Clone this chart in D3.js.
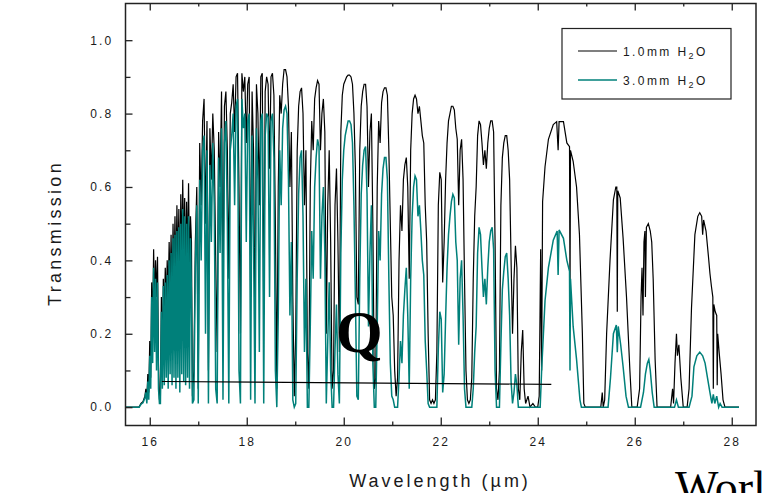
<!DOCTYPE html>
<html>
<head>
<meta charset="utf-8">
<script src="https://cdn.jsdelivr.net/npm/d3@7/dist/d3.min.js"></script>
<style>
  body { margin: 0; background: #fff; }
  text { fill: #1a1a1a; }
</style>
</head>
<body>
<div id="chart"></div>
<script>
// tick positions
const xMajor = [16, 18, 20, 22, 24, 26, 28];
const xMinor = [17, 19, 21, 23, 25, 27];
const yMajor = [0, 0.2, 0.4, 0.6, 0.8, 1.0];
const yMinor = [0.1, 0.3, 0.5, 0.7, 0.9];

// [wavelength (um), transmission]
const trans1mm = [
  [15.50,0],[15.78,0],[15.82,0.01],[15.86,0.015],[15.90,0.03],
  [15.92,0.05],[15.94,0.02],[15.96,0.09],[15.98,0.04],[16.00,0.18],[16.02,0.08],[16.04,0.34],[16.06,0.22],[16.08,0.43],[16.10,0.28],[16.12,0.40],[16.14,0.30],[16.16,0.41],[16.18,0.12],[16.20,0.02],[16.22,0.03],
  [16.24,0.30],[16.26,0.12],[16.28,0.35],[16.30,0.25],[16.32,0.38],[16.34,0.28],[16.36,0.40],[16.38,0.30],[16.40,0.45],[16.42,0.33],[16.44,0.47],[16.46,0.30],[16.48,0.50],[16.50,0.36],[16.52,0.52],[16.54,0.34],[16.56,0.55],[16.58,0.38],[16.60,0.54],[16.62,0.30],[16.64,0.58],[16.66,0.40],[16.68,0.62],[16.70,0.42],[16.72,0.57],[16.74,0.36],[16.76,0.56],[16.78,0.40],[16.80,0.61],[16.82,0.38],[16.84,0.52],[16.86,0.45],[16.88,0.03],
  [16.91,0.10],[16.94,0.45],[16.97,0.60],[17.00,0.05],[17.03,0.72],[17.06,0.55],[17.09,0.78],[17.12,0.84],[17.15,0.50],[17.18,0.78],[17.21,0.10],[17.24,0.76],[17.27,0.62],[17.30,0.80],[17.33,0.70],[17.36,0.40],[17.39,0.15],[17.42,0.75],[17.45,0.60],[17.48,0.86],[17.51,0.30],[17.54,0.82],[17.57,0.86],[17.60,0.70],[17.63,0.35],[17.66,0.80],[17.69,0.83],[17.72,0.88],[17.75,0.75],[17.78,0.90],[17.81,0.91],[17.84,0.60],[17.87,0.20],[17.90,0.91],[17.93,0.86],[17.96,0.90],[17.99,0.72],
  [18.02,0.88],[18.05,0.90],[18.08,0.30],[18.11,0.86],[18.14,0.70],[18.17,0.20],[18.20,0.88],[18.23,0.80],[18.26,0.55],[18.29,0.90],[18.32,0.91],[18.35,0.25],[18.38,0.86],[18.41,0.90],[18.44,0.88],[18.47,0.65],[18.50,0.90],[18.53,0.91],[18.56,0.85],[18.59,0.50],[18.62,0.05],[18.65,0.60],[18.68,0.85],[18.71,0.80],[18.74,0.88],[18.77,0.92],[18.80,0.92],[18.83,0.90],[18.86,0.82],[18.89,0.60],[18.92,0.75],[18.95,0.30],[18.98,0.03],
  [19.01,0.20],[19.04,0.70],[19.07,0.82],[19.10,0.86],[19.13,0.87],[19.16,0.80],[19.19,0.55],[19.22,0.70],[19.25,0.15],[19.28,0.05],[19.31,0.60],[19.34,0.78],[19.37,0.70],[19.40,0.84],[19.43,0.87],[19.46,0.89],[19.49,0.88],[19.52,0.70],[19.55,0.80],[19.58,0.84],[19.61,0.75],[19.64,0.20],[19.67,0.55],[19.70,0.70],[19.73,0.45],[19.76,0.05],[19.79,0.10],[19.82,0.55],[19.85,0.65],[19.88,0.45],[19.91,0.15],[19.94,0.75],[19.97,0.85],[20.00,0.88],
  [20.03,0.89],[20.06,0.90],[20.09,0.905],[20.12,0.905],[20.15,0.90],[20.18,0.88],[20.21,0.80],[20.24,0.65],[20.27,0.30],[20.30,0.28],[20.33,0.70],[20.36,0.82],[20.39,0.86],[20.42,0.88],[20.45,0.88],[20.48,0.82],[20.51,0.60],[20.54,0.75],[20.57,0.80],[20.60,0.50],[20.63,0.05],[20.66,0.08],[20.69,0.60],[20.72,0.78],[20.75,0.72],[20.78,0.83],[20.81,0.86],[20.84,0.87],[20.87,0.87],[20.90,0.85],[20.93,0.70],[20.96,0.50],[20.99,0.30],
  [21.02,0.25],[21.05,0.10],[21.08,0.03],[21.11,0.08],[21.14,0.40],[21.17,0.55],[21.20,0.48],[21.23,0.62],[21.26,0.66],[21.29,0.68],[21.32,0.60],[21.35,0.35],[21.38,0.70],[21.41,0.80],[21.44,0.84],[21.47,0.85],[21.50,0.84],[21.53,0.80],[21.56,0.82],[21.59,0.78],[21.62,0.74],[21.65,0.72],[21.68,0.55],[21.71,0.45],[21.74,0.20],[21.77,0.02],[21.80,0.01],[21.83,0.02],[21.86,0.01],[21.89,0.02],[21.92,0.15],[21.95,0.55],[21.98,0.64],[22.01,0.62],[22.04,0.34],[22.07,0.45],
  [22.10,0.62],[22.13,0.72],[22.16,0.78],[22.19,0.80],[22.22,0.82],[22.25,0.82],[22.28,0.81],[22.31,0.76],[22.34,0.73],[22.37,0.55],[22.40,0.70],[22.43,0.73],[22.46,0.62],[22.49,0.35],[22.52,0.10],[22.55,0.02],[22.58,0.01],[22.61,0.02],[22.64,0.08],[22.67,0.35],[22.70,0.52],[22.73,0.60],[22.76,0.74],[22.79,0.78],[22.82,0.77],[22.85,0.72],[22.88,0.66],[22.91,0.70],[22.94,0.65],[22.97,0.72],[23.00,0.76],
  [23.03,0.78],[23.06,0.78],[23.09,0.75],[23.12,0.45],[23.15,0.05],[23.18,0.02],[23.21,0.10],[23.24,0.55],[23.27,0.68],[23.30,0.72],[23.33,0.74],[23.36,0.74],[23.39,0.70],[23.42,0.62],[23.45,0.40],[23.48,0.20],[23.51,0.35],[23.54,0.44],[23.57,0.38],[23.60,0.05],[23.63,0.02],[23.66,0.15],[23.69,0.21],[23.72,0.05],[23.75,0.01],[23.80,0.03],[23.84,0],[23.90,0.01],[23.95,0],[24.00,0],
  [24.03,0.03],[24.06,0.43],[24.08,0.10],[24.10,0.56],[24.15,0.655],[24.22,0.73],[24.32,0.77],[24.39,0.778],[24.42,0.70],[24.44,0.778],[24.53,0.778],[24.60,0.72],[24.655,0.71],[24.665,0.30],[24.675,0.70],[24.73,0.67],[24.80,0.60],[24.86,0.47],[24.92,0.20],[24.95,0.01],[24.98,0],
  [25.30,0],[25.33,0.04],[25.35,0],[25.38,0.02],[25.42,0.20],[25.49,0.40],[25.56,0.565],[25.61,0.60],[25.63,0.60],[25.64,0.26],[25.65,0.59],[25.70,0.57],[25.76,0.46],[25.83,0.30],[25.90,0.10],[25.94,0],
  [26.05,0],[26.10,0.05],[26.13,0.30],[26.15,0.38],[26.17,0.25],[26.19,0.45],[26.21,0.48],[26.22,0.30],[26.24,0.49],[26.28,0.50],[26.32,0.48],[26.35,0.45],[26.38,0.35],[26.42,0.13],[26.46,0],
  [26.74,0],[26.78,0.05],[26.80,0.01],[26.83,0.12],[26.86,0.20],[26.88,0.14],[26.91,0.17],[26.95,0.08],[27.00,0],
  [27.08,0],[27.12,0.05],[27.17,0.27],[27.24,0.47],[27.30,0.52],[27.34,0.53],[27.38,0.52],[27.40,0.47],[27.42,0.51],[27.47,0.48],[27.52,0.41],[27.55,0.365],[27.58,0.33],[27.61,0.30],[27.62,0.05],[27.63,0.28],[27.66,0.26],[27.69,0.25],[27.70,0.06],[27.71,0.20],[27.74,0.15],[27.78,0.09],[27.82,0.02],[27.86,0],[28.15,0]
];

const trans3mm = [
  [15.50,0],[15.78,0],[15.82,0.008],[15.86,0.012],[15.90,0.025],
  [15.92,0.04],[15.94,0.01],[15.96,0.07],[15.98,0.02],[16.00,0.14],[16.02,0.05],[16.04,0.30],[16.06,0.12],[16.08,0.38],[16.10,0.15],[16.12,0.35],[16.14,0.10],[16.16,0.34],[16.18,0.05],[16.20,0.01],[16.22,0.01],
  [16.24,0.26],[16.26,0.05],[16.28,0.33],[16.30,0.06],[16.32,0.34],[16.34,0.08],[16.36,0.36],[16.38,0.05],[16.40,0.40],[16.42,0.09],[16.44,0.42],[16.46,0.06],[16.48,0.46],[16.50,0.08],[16.52,0.47],[16.54,0.05],[16.56,0.48],[16.58,0.08],[16.60,0.49],[16.62,0.04],[16.64,0.50],[16.66,0.09],[16.68,0.54],[16.70,0.07],[16.72,0.52],[16.74,0.06],[16.76,0.50],[16.78,0.08],[16.80,0.52],[16.82,0.05],[16.84,0.46],[16.86,0.30],[16.88,0.01],
  [16.91,0.02],[16.94,0.38],[16.97,0.55],[17.00,0.01],[17.03,0.62],[17.06,0.40],[17.09,0.70],[17.12,0.74],[17.15,0.20],[17.18,0.70],[17.21,0.01],[17.24,0.66],[17.27,0.45],[17.30,0.72],[17.33,0.55],[17.36,0.05],[17.39,0.01],[17.42,0.68],[17.45,0.42],[17.48,0.76],[17.51,0.02],[17.54,0.72],[17.57,0.78],[17.60,0.50],[17.63,0.01],[17.66,0.70],[17.69,0.74],[17.72,0.80],[17.75,0.55],[17.78,0.82],[17.81,0.84],[17.84,0.10],[17.87,0.01],[17.90,0.84],[17.93,0.76],[17.96,0.80],[17.99,0.45],
  [18.02,0.78],[18.05,0.80],[18.08,0.02],[18.11,0.74],[18.14,0.45],[18.17,0.01],[18.20,0.76],[18.23,0.62],[18.26,0.15],[18.29,0.78],[18.32,0.80],[18.35,0.01],[18.38,0.74],[18.41,0.80],[18.44,0.79],[18.47,0.30],[18.50,0.78],[18.53,0.80],[18.56,0.68],[18.59,0.10],[18.62,0],[18.65,0.25],[18.68,0.70],[18.71,0.55],[18.74,0.76],[18.77,0.81],[18.80,0.82],[18.83,0.80],[18.86,0.62],[18.89,0.25],[18.92,0.45],[18.95,0.02],[18.98,0],
  [19.01,0.01],[19.04,0.35],[19.07,0.58],[19.10,0.68],[19.13,0.70],[19.16,0.52],[19.19,0.15],[19.22,0.35],[19.25,0],[19.28,0],[19.31,0.22],[19.34,0.48],[19.37,0.35],[19.40,0.60],[19.43,0.68],[19.46,0.73],[19.49,0.71],[19.52,0.35],[19.55,0.52],[19.58,0.60],[19.61,0.42],[19.64,0.01],[19.67,0.18],[19.70,0.34],[19.73,0.10],[19.76,0],[19.79,0],[19.82,0.16],[19.85,0.28],[19.88,0.09],[19.91,0.01],[19.94,0.42],[19.97,0.62],[20.00,0.70],
  [20.03,0.74],[20.06,0.76],[20.09,0.78],[20.12,0.78],[20.15,0.77],[20.18,0.72],[20.21,0.55],[20.24,0.30],[20.27,0.03],[20.30,0.02],[20.33,0.35],[20.36,0.58],[20.39,0.66],[20.42,0.70],[20.45,0.71],[20.48,0.58],[20.51,0.22],[20.54,0.42],[20.57,0.55],[20.60,0.12],[20.63,0],[20.66,0],[20.69,0.22],[20.72,0.48],[20.75,0.40],[20.78,0.58],[20.81,0.65],[20.84,0.68],[20.87,0.68],[20.90,0.62],[20.93,0.35],[20.96,0.12],[20.99,0.03],
  [21.02,0.02],[21.05,0],[21.08,0],[21.11,0],[21.14,0.08],[21.17,0.18],[21.20,0.12],[21.23,0.25],[21.26,0.32],[21.29,0.38],[21.32,0.25],[21.35,0.05],[21.38,0.35],[21.41,0.52],[21.44,0.60],[21.47,0.63],[21.50,0.62],[21.53,0.52],[21.56,0.55],[21.59,0.48],[21.62,0.40],[21.65,0.36],[21.68,0.18],[21.71,0.10],[21.74,0.01],[21.77,0],[21.92,0],[21.95,0.16],[21.98,0.26],[22.01,0.24],[22.04,0.04],[22.07,0.09],
  [22.10,0.24],[22.13,0.38],[22.16,0.47],[22.19,0.52],[22.22,0.56],[22.25,0.58],[22.28,0.57],[22.31,0.45],[22.34,0.40],[22.37,0.17],[22.40,0.35],[22.43,0.40],[22.46,0.25],[22.49,0.05],[22.52,0],[22.64,0],[22.67,0.05],[22.70,0.15],[22.73,0.22],[22.76,0.42],[22.79,0.49],[22.82,0.47],[22.85,0.38],[22.88,0.30],[22.91,0.35],[22.94,0.28],[22.97,0.38],[23.00,0.45],
  [23.03,0.48],[23.06,0.49],[23.09,0.43],[23.12,0.10],[23.15,0],[23.21,0],[23.24,0.17],[23.27,0.32],[23.30,0.37],[23.33,0.41],[23.36,0.42],[23.39,0.35],[23.42,0.25],[23.45,0.07],[23.48,0.01],[23.51,0.04],[23.54,0.09],[23.57,0.06],[23.60,0],[24.05,0],
  [24.08,0.10],[24.15,0.29],[24.22,0.38],[24.32,0.455],[24.40,0.48],[24.42,0.36],[24.44,0.483],[24.53,0.46],[24.60,0.40],[24.655,0.37],[24.665,0.10],[24.675,0.35],[24.73,0.22],[24.80,0.13],[24.87,0.02],[24.90,0],
  [25.45,0],[25.50,0.08],[25.56,0.20],[25.62,0.224],[25.64,0.15],[25.66,0.22],[25.71,0.17],[25.76,0.11],[25.82,0.03],[25.87,0],
  [26.12,0],[26.18,0.04],[26.22,0.09],[26.26,0.12],[26.29,0.13],[26.32,0.10],[26.36,0.04],[26.40,0],
  [26.82,0],[26.86,0.02],[26.90,0],
  [27.12,0],[27.18,0.03],[27.22,0.11],[27.28,0.14],[27.34,0.15],[27.40,0.14],[27.45,0.12],[27.50,0.08],[27.55,0.04],[27.59,0.01],[27.62,0.035],[27.65,0.01],[27.69,0.03],[27.73,0],[27.76,0.01],[27.80,0],[28.15,0]
];

// thin straight line drawn across the forest
const refLine = [[16.25, 0.070], [24.28, 0.062]];

const legendNames = ["1.0mm H", "3.0mm H"];
const colors = ["#000000", "#00807a"];

const sans = "'Liberation Sans', Arial, sans-serif";
const serif = "'Liberation Serif', 'Times New Roman', serif";

const width = 763, height = 493;
const margin = {left: 125.5, right: 7, top: 3.5, bottom: 67.5};

const svg = d3.select("#chart").append("svg")
    .attr("width", width)
    .attr("height", height);

const x = d3.scaleLinear().domain([15.5, 28.5]).range([margin.left, width - margin.right]);
const y = d3.scaleLinear().domain([-0.05, 1.1]).range([height - margin.bottom, margin.top]);

const line = d3.line().x(d => x(d[0])).y(d => y(d[1]));

svg.append("path").datum(trans1mm)
    .attr("d", line)
    .attr("fill", "none")
    .attr("stroke", colors[0])
    .attr("stroke-width", 1.2);

svg.append("path").datum(trans3mm)
    .attr("d", line)
    .attr("fill", "none")
    .attr("stroke", colors[1])
    .attr("stroke-width", 1.5);

svg.append("path").datum(refLine)
    .attr("d", line)
    .attr("fill", "none")
    .attr("stroke", "#000")
    .attr("stroke-width", 1.1);

// axes, ticks pointing inward
const yB = y.range()[0], yT = y.range()[1];

svg.append("g").attr("transform", `translate(0,${yB})`)
    .call(d3.axisBottom(x).tickValues(xMajor).tickSize(-8).tickPadding(11.5).tickFormat(d3.format("d")));
svg.append("g").attr("transform", `translate(0,${yB})`)
    .call(d3.axisBottom(x).tickValues(xMinor).tickSize(-4).tickFormat(""));
svg.append("g").attr("transform", `translate(0,${yT})`)
    .call(d3.axisTop(x).tickValues(xMajor).tickSize(-7).tickFormat(""));
svg.append("g").attr("transform", `translate(0,${yT})`)
    .call(d3.axisTop(x).tickValues(xMinor).tickSize(-3).tickFormat(""));
svg.append("g").attr("transform", `translate(${margin.left},0)`)
    .call(d3.axisLeft(y).tickValues(yMajor).tickSize(-7).tickPadding(12).tickFormat(d3.format(".1f")));
svg.append("g").attr("transform", `translate(${margin.left},0)`)
    .call(d3.axisLeft(y).tickValues(yMinor).tickSize(-5).tickFormat(""));

svg.selectAll(".domain").remove();
svg.selectAll(".tick line").attr("stroke", "#222").attr("stroke-width", 1.3);
svg.selectAll(".tick text")
    .attr("font-size", 12)
    .style("font-family", sans)
    .style("fill", "#1a1a1a")
    .style("letter-spacing", "2.2px");

// frame
svg.append("rect")
    .attr("x", margin.left).attr("y", yT)
    .attr("width", x.range()[1] - margin.left)
    .attr("height", yB - yT)
    .attr("fill", "none")
    .attr("stroke", "#222")
    .attr("stroke-width", 1.5);

// axis titles
svg.append("text")
    .attr("x", 440).attr("y", 487)
    .attr("text-anchor", "middle")
    .attr("font-size", 18)
    .style("font-family", sans)
    .style("letter-spacing", "3px")
    .text("Wavelength (\u00b5m)");

svg.append("text")
    .attr("transform", "translate(61,233) rotate(-90)")
    .attr("text-anchor", "middle")
    .attr("font-size", 18)
    .style("font-family", sans)
    .style("letter-spacing", "3.3px")
    .text("Transmission");

// legend
const leg = svg.append("g");
leg.append("rect")
    .attr("x", 562).attr("y", 28.5).attr("width", 169).attr("height", 70.5)
    .attr("fill", "#fff").attr("stroke", "#222").attr("stroke-width", 1.2);
legendNames.forEach((name, i) => {
  const ly = 51 + i * 29;
  leg.append("line")
      .attr("x1", 578).attr("x2", 617).attr("y1", ly).attr("y2", ly)
      .attr("stroke", colors[i]).attr("stroke-width", i ? 1.5 : 1.2);
  const t = leg.append("text")
      .attr("x", 623).attr("y", ly + 4.5)
      .attr("font-size", 12)
      .style("font-family", sans)
      .style("letter-spacing", "2.4px");
  t.append("tspan").text(name);
  t.append("tspan").attr("dy", 3).attr("font-size", 9).text("2");
  t.append("tspan").attr("dy", -3).text("O");
});

// overlaid text
svg.append("text")
    .attr("x", 336).attr("y", 352)
    .attr("font-weight", "bold")
    .attr("font-size", 60)
    .style("font-family", serif)
    .style("fill", "#000")
    .text("Q");

// partly outside the page, as in the source picture
svg.append("text")
    .attr("x", 675).attr("y", 503)
    .attr("font-size", 46)
    .style("font-family", serif)
    .style("fill", "#000")
    .text("Worl");
</script>
</body>
</html>
